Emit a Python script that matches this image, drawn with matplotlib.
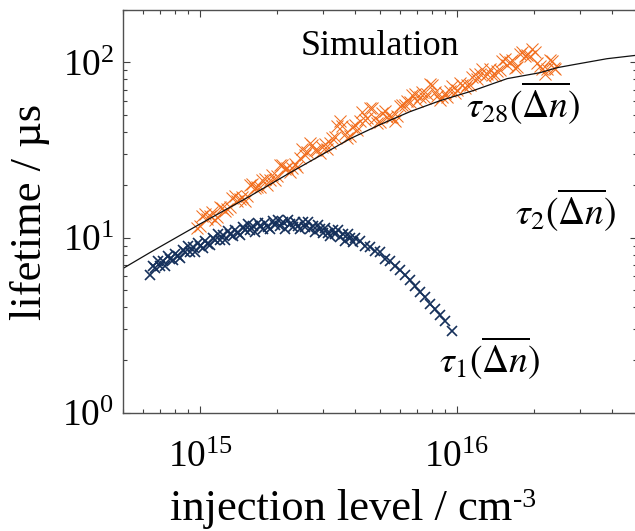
import numpy as np
import matplotlib
matplotlib.use('Agg')
import matplotlib.pyplot as plt
from matplotlib.ticker import NullFormatter

plt.rcParams['font.family'] = ['Liberation Serif', 'DejaVu Serif']
plt.rcParams['mathtext.fontset'] = 'custom'
plt.rcParams['mathtext.rm'] = 'Liberation Serif'
plt.rcParams['mathtext.it'] = 'Liberation Serif:italic'

# injection level in units of 1e15 cm^-3, lifetime in us
tau1_n = [0.641, 0.655, 0.670, 0.685, 0.701, 0.717, 0.733, 0.749, 0.766, 0.784,
          0.802, 0.820, 0.838, 0.857, 0.877, 0.897, 0.917, 0.938, 0.959, 0.981,
          1.000, 1.023, 1.049, 1.072, 1.096, 1.121, 1.147, 1.173, 1.199, 1.226,
          1.254, 1.282, 1.311, 1.341, 1.371, 1.402, 1.434, 1.467, 1.500, 1.534,
          1.569, 1.605, 1.641, 1.678, 1.716, 1.755, 1.794, 1.835, 1.876, 1.919,
          1.962, 2.006, 2.052, 2.098, 2.146, 2.194, 2.244, 2.295, 2.347, 2.400,
          2.455, 2.510, 2.567, 2.625, 2.685, 2.745, 2.807, 2.871, 2.936, 3.002,
          3.070, 3.140, 3.211, 3.283, 3.358, 3.434, 3.512, 3.591, 3.672, 3.755,
          3.840, 3.927, 4.016,
          4.200, 4.392, 4.593, 4.803, 5.023, 5.253, 5.494, 5.745, 6.008, 6.283,
          6.570, 6.871, 7.186, 7.516, 7.860, 8.219, 8.597, 8.990, 9.57]
tau1_t = [6.15, 6.87, 6.69, 7.32, 6.85, 7.34, 6.91, 7.84, 7.59, 7.40,
          8.06, 7.80, 7.69, 8.52, 8.22, 8.91, 8.26, 8.80, 8.22, 9.30,
          8.98, 8.74, 9.51, 9.16, 9.01, 9.98, 9.63, 10.45, 9.69, 10.31,
          9.63, 10.90, 10.52, 10.20, 11.06, 10.61, 10.38, 11.48, 11.04, 11.91,
          10.99, 11.64, 10.80, 12.14, 11.64, 11.23, 12.12, 11.56, 11.25, 12.36,
          11.80, 12.68, 11.64, 12.22, 11.25, 12.55, 11.94, 11.44, 12.27, 11.62,
          11.22, 12.21, 11.55, 12.31, 11.20, 11.70, 10.72, 11.85, 11.18, 10.63,
          11.29, 10.63, 10.21, 11.08, 10.44, 11.08, 10.04, 10.46, 9.54, 10.53,
          9.91, 9.38, 9.93,
          9.57, 8.93, 8.86, 8.35, 8.25, 7.53, 7.37, 6.86, 6.54, 6.10,
          5.70, 5.32, 4.92, 4.55, 4.20, 3.89, 3.60, 3.33, 2.92]

tau28_n = [0.976, 1.021, 1.068, 1.116, 1.168, 1.221, 1.277, 1.335, 1.396, 1.460,
           1.527, 1.597, 1.670, 1.747, 1.827, 1.910, 1.998, 2.089, 2.185, 2.285,
           2.389, 2.499, 2.613, 2.733, 2.858, 2.989, 3.126, 3.268, 3.418, 3.574,
           3.738, 3.909, 4.088, 4.275, 4.471, 4.675, 4.889, 5.113, 5.347, 5.592,
           5.848, 6.115, 6.395, 6.688, 6.994, 7.314, 7.649, 7.999, 8.365, 8.748,
           9.148, 9.570, 10.01, 10.47, 10.94, 11.45, 11.97, 12.52, 13.09, 13.69,
           14.32, 14.97, 15.66, 16.38, 17.13, 17.91, 18.73, 19.59, 20.49, 21.42,
           22.40, 23.43, 24.06,
           0.998, 1.044, 1.092, 1.141, 1.194, 1.249, 1.306, 1.365, 1.428, 1.493,
           1.562, 1.633, 1.708, 1.786, 1.868, 1.953, 2.043, 2.136, 2.234, 2.337,
           2.443, 2.555, 2.672, 2.795, 2.923, 3.057, 3.197, 3.342, 3.495, 3.655,
           3.823, 3.997, 4.180, 4.372, 4.572, 4.781, 5.000, 5.229, 5.468, 5.718,
           5.980, 6.253, 6.540, 6.839, 7.152, 7.479, 7.822, 8.180, 8.554, 8.946,
           9.355, 9.786, 10.24, 10.71, 11.19, 11.71, 12.24, 12.80, 13.39, 14.00,
           14.64, 15.31, 16.01, 16.75, 17.52, 18.32, 19.15, 20.03, 20.95, 21.90,
           22.91, 23.74]
tau28_t = [11.39, 13.30, 12.75, 13.94, 13.03, 14.83, 14.59, 16.81, 16.12, 16.95,
           17.35, 20.28, 19.48, 21.32, 19.97, 22.74, 22.44, 25.88, 24.85, 24.82,
           25.45, 32.15, 30.87, 33.75, 31.52, 32.70, 32.23, 37.13, 43.36, 43.31,
           36.90, 42.97, 40.98, 52.11, 48.33, 54.70, 45.10, 51.63, 49.11, 48.60,
           49.30, 57.04, 60.27, 65.19, 60.19, 67.55, 65.63, 74.73, 64.52, 63.43,
           63.84, 73.28, 69.18, 74.34, 73.86, 82.57, 80.12, 91.13, 86.10, 84.76,
           89.10, 102.5, 97.03, 103.5, 94.28, 114.6, 110.1, 119.7, 98.95, 91.58,
           92.19, 101.6, 91.35,
           11.69, 13.67, 13.33, 12.67, 14.87, 14.27, 14.88, 17.28, 16.53, 16.12,
           20.07, 19.28, 19.36, 21.66, 21.31, 21.23, 25.79, 24.60, 23.59, 26.39,
           28.60, 29.61, 34.54, 31.64, 30.50, 34.08, 34.59, 37.71, 46.36, 38.78,
           37.83, 44.06, 46.21, 47.17, 55.02, 48.18, 45.84, 52.87, 48.85, 46.01,
           56.74, 56.87, 59.55, 65.77, 63.76, 62.59, 74.93, 67.36, 60.77, 66.81,
           68.40, 66.93, 76.73, 71.88, 74.19, 85.41, 85.45, 83.27, 91.41, 84.29,
           90.78, 104.7, 100.2, 92.85, 111.2, 109.0, 109.1, 114.3, 95.19, 86.37,
           103.6, 93.45]

fit_n = [0.502, 0.641, 1.000, 1.569, 2.244, 3.840, 5.023, 6.570, 8.597, 11.55,
         15.66, 21.04, 24.5, 28.3, 38.3, 50.0]
fit_t = [6.67, 8.24, 11.96, 17.28, 23.5, 36.7, 44.2, 52.4, 60.5, 69.0,
         80.8, 87.4, 93.3, 97.0, 105.0, 109.9]

navy = '#15305B'
orange = '#F26E1E'
W, H = 635, 531

fig = plt.figure(figsize=(W / 100, H / 100), dpi=100)
ax = fig.add_axes([122.7 / W, (H - 412.7) / H, 514.0 / W, 403.0 / H])

ax.plot(np.array(tau28_n) * 1e15, tau28_t, 'x', color=orange, ms=8.5, mew=0.75)
ax.plot(np.array(tau1_n) * 1e15, tau1_t, 'x', color=navy, ms=7, mew=1.2)
ax.plot(np.array(fit_n) * 1e15, fit_t, '-', color='#111111', lw=0.9)

ax.set_xscale('log')
ax.set_yscale('log')
ax.set_xlim(5e14, 5e16)
ax.set_ylim(1, 200)
ax.xaxis.set_minor_formatter(NullFormatter())
ax.yaxis.set_minor_formatter(NullFormatter())

ax.tick_params(which='both', direction='in', top=True, right=True,
               labelsize=27, color='#404040', width=0.8)
ax.tick_params(which='major', length=5)
ax.tick_params(which='minor', length=3)
ax.tick_params(axis='x', pad=20)
ax.tick_params(axis='y', pad=6)
for s in ax.spines.values():
    s.set_color('#505050')
    s.set_linewidth(1.0)


def fxy(x, y):
    return x / W, 1 - y / H


fig.text(*fxy(301, 55), 'Simulation', fontsize=26, ha='left', va='baseline')
fig.text(*fxy(466, 118), r'$\tau_{28}(\overline{\Delta n})$', fontsize=27,
         math_fontfamily='stix', ha='left', va='baseline')
fig.text(*fxy(515, 225), r'$\tau_{2}(\overline{\Delta n})$', fontsize=27,
         math_fontfamily='stix', ha='left', va='baseline')
fig.text(*fxy(439, 373), r'$\tau_{1}(\overline{\Delta n})$', fontsize=27,
         math_fontfamily='stix', ha='left', va='baseline')

fig.text(*fxy(30, 212), 'lifetime / µs', fontsize=32, rotation=90,
         ha='center', va='center')
xl = fig.text(*fxy(170, 520), 'injection level / cm', fontsize=32,
              ha='left', va='baseline')
fig.add_artist(plt.Annotation('-3', xy=(1, 1), xycoords=xl, xytext=(0.5, 1),
                              textcoords='offset points', fontsize=20,
                              ha='left', va='top'))

fig.savefig('out.png', dpi=100)
